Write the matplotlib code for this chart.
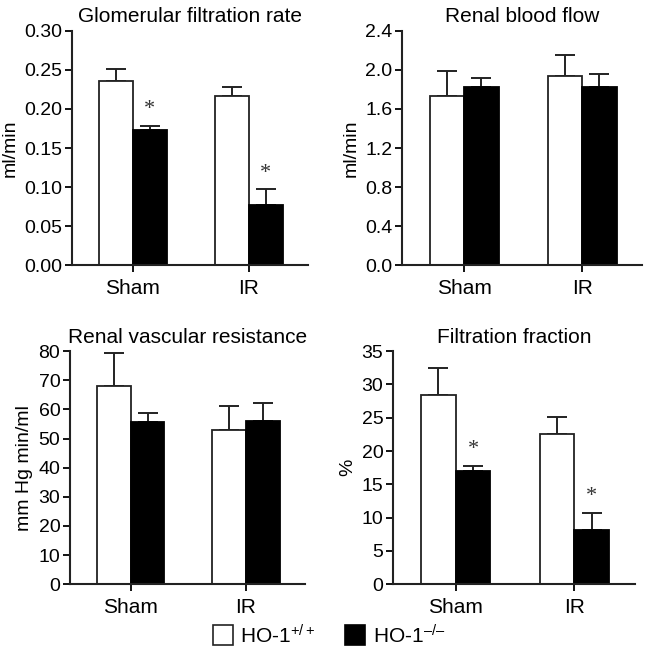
import numpy as np
import matplotlib
matplotlib.use("Agg")
import matplotlib.pyplot as plt
from matplotlib.patches import Rectangle

plt.rcParams['font.family'] = ['Liberation Sans', 'DejaVu Sans']
plt.rcParams['mathtext.fontset'] = 'custom'
plt.rcParams['mathtext.rm'] = 'Liberation Sans'
plt.rcParams['mathtext.it'] = 'Liberation Sans'

groups = ["Sham", "IR"]

gfr_wt = [0.236, 0.216]
gfr_wt_err = [0.015, 0.012]
gfr_ko = [0.173, 0.077]
gfr_ko_err = [0.005, 0.020]
gfr_sig = [True, True]

rbf_wt = [1.73, 1.94]
rbf_wt_err = [0.26, 0.21]
rbf_ko = [1.82, 1.82]
rbf_ko_err = [0.10, 0.14]
rbf_sig = [False, False]

rvr_wt = [68.0, 53.0]
rvr_wt_err = [11.5, 8.0]
rvr_ko = [55.7, 56.0]
rvr_ko_err = [3.0, 6.3]
rvr_sig = [False, False]

ff_wt = [28.4, 22.5]
ff_wt_err = [4.0, 2.6]
ff_ko = [17.0, 8.1]
ff_ko_err = [0.7, 2.6]
ff_sig = [True, True]

panels = [
    ("Glomerular filtration rate", "ml/min", gfr_wt, gfr_wt_err, gfr_ko, gfr_ko_err, gfr_sig,
     (0, 0.30), np.arange(0, 0.301, 0.05), "{:.2f}"),
    ("Renal blood flow", "ml/min", rbf_wt, rbf_wt_err, rbf_ko, rbf_ko_err, rbf_sig,
     (0, 2.4), np.arange(0, 2.41, 0.4), "{:.1f}"),
    ("Renal vascular resistance", "mm Hg min/ml", rvr_wt, rvr_wt_err, rvr_ko, rvr_ko_err, rvr_sig,
     (0, 80), np.arange(0, 81, 10), "{:.0f}"),
    ("Filtration fraction", "%", ff_wt, ff_wt_err, ff_ko, ff_ko_err, ff_sig,
     (0, 35), np.arange(0, 36, 5), "{:.0f}"),
]

rects = [
    [0.110, 0.595, 0.361, 0.358],
    [0.615, 0.595, 0.367, 0.358],
    [0.107, 0.108, 0.359, 0.356],
    [0.601, 0.108, 0.370, 0.356],
]

fig = plt.figure(figsize=(6.54, 6.55), dpi=100)
x = np.arange(len(groups))
w = 0.293

for rect, (title, ylab, wt, wt_err, ko, ko_err, sig, ylim, yticks, fmt) in zip(rects, panels):
    ax = fig.add_axes(rect)
    ax.bar(x - w / 2, wt, w, color="white", edgecolor="#222222", linewidth=1.3, zorder=2)
    ax.bar(x + w / 2, ko, w, color="black", edgecolor="black", linewidth=1.3, zorder=2)
    ax.errorbar(x - w / 2, wt, yerr=[np.zeros(len(wt)), wt_err], fmt="none",
                ecolor="#222222", elinewidth=1.4, capsize=7, capthick=1.4, zorder=1)
    ax.errorbar(x + w / 2, ko, yerr=[np.zeros(len(ko)), ko_err], fmt="none",
                ecolor="#222222", elinewidth=1.4, capsize=7, capthick=1.4, zorder=1)
    for xi, v, e, s in zip(x, ko, ko_err, sig):
        if s:
            ax.annotate("*", (xi + w / 2, v + e), xytext=(0, 5), textcoords="offset points",
                        ha="center", va="bottom", fontsize=16, family="Liberation Serif",
                        color="#333333")
    ax.set_xlim(-0.526, 1.51)
    ax.set_ylim(*ylim)
    ax.set_yticks(yticks)
    ax.set_yticklabels([fmt.format(t) for t in yticks])
    ax.set_xticks(x)
    ax.set_xticklabels(groups)
    ax.tick_params(axis="y", labelsize=14, length=5, width=1.3, direction="out", pad=2)
    ax.tick_params(axis="x", labelsize=15, length=5, width=1.3, direction="out", pad=5)
    for sp in ["top", "right"]:
        ax.spines[sp].set_visible(False)
    for sp in ["left", "bottom"]:
        ax.spines[sp].set_linewidth(1.5)
        ax.spines[sp].set_color("#222222")
    ax.set_title(title, fontsize=15, pad=6)
    ax.set_ylabel(ylab, fontsize=14, labelpad=4)

# legend row
fig.patches.append(Rectangle((213 / 654, 1 - 645 / 655), 20 / 654, 20 / 655,
                             transform=fig.transFigure, facecolor="white",
                             edgecolor="#222222", linewidth=1.2))
fig.text(240 / 654, 1 - 636 / 655, "HO-1$^{+/+}$", fontsize=15, va="center", ha="left")
fig.patches.append(Rectangle((345 / 654, 1 - 645 / 655), 20 / 654, 20 / 655,
                             transform=fig.transFigure, facecolor="black",
                             edgecolor="black", linewidth=1.2))
fig.text(373 / 654, 1 - 636 / 655, "HO-1$^{\u2013/\u2013}$", fontsize=15, va="center", ha="left")

plt.savefig("out.png", dpi=100)
